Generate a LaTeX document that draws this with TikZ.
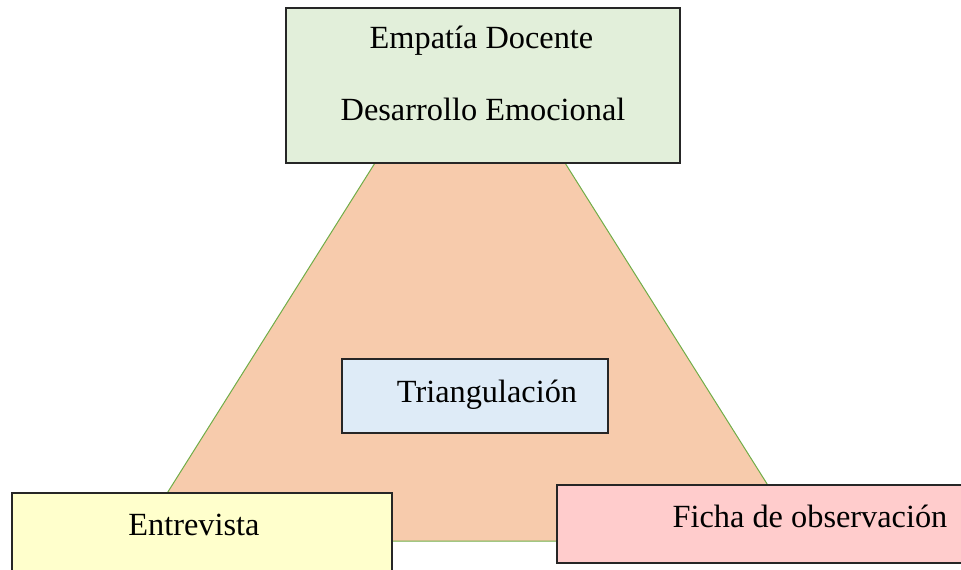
\documentclass[tikz,border=0pt]{standalone}
\usepackage{fontspec}
\setmainfont{Liberation Serif}
\usetikzlibrary{positioning}

\definecolor{trifill}{HTML}{F7CBAC}
\definecolor{triline}{HTML}{70AD47}
\definecolor{empgreen}{HTML}{E2EFDA}
\definecolor{triblue}{HTML}{DEEBF7}
\definecolor{entyellow}{HTML}{FFFFCC}
\definecolor{fichapink}{HTML}{FFCCCC}

\begin{document}
\begin{tikzpicture}[
	x=0.2mm, y=-0.2mm,
	box/.style={draw=black!85, line width=0.3mm, inner sep=0pt},
	txt/.style={font=\fontsize{18.4}{22}\selectfont, anchor=base, inner sep=0pt}
	]
	
	\useasboundingbox (0,0) rectangle (961,569);
	\clip (0,0) rectangle (961,569);
	
	% Background triangle
	\filldraw[fill=trifill, draw=triline, line width=0.2mm]
	(470,12) -- (137,541) -- (803,541) -- cycle;
	
	% Boxes
	\node[box, fill=empgreen, minimum width=78.8mm, minimum height=31mm] (empatia) at (483,85.5) {};
	\node[box, fill=triblue, minimum width=53.2mm, minimum height=14.8mm] (triang) at (475,396) {};
	\node[box, fill=entyellow, minimum width=76mm, minimum height=21.4mm] (entrev) at (202,546.5) {};
	\node[box, fill=fichapink, minimum width=84.6mm, minimum height=15.6mm] (ficha) at (768.5,524) {};
	
	% Texts
	\node[txt] (empatiatxt) at (481.5,48) {Empatía Docente};
	\node[txt] (desarrollotxt) at (483,120) {Desarrollo Emocional};
	\node[txt] (triangtxt) at (487,402) {Triangulación};
	\node[txt] (entrevtxt) at (194,535) {Entrevista};
	\node[txt] (fichatxt) at (810,527) {Ficha de observación};
	
\end{tikzpicture}
\end{document}
